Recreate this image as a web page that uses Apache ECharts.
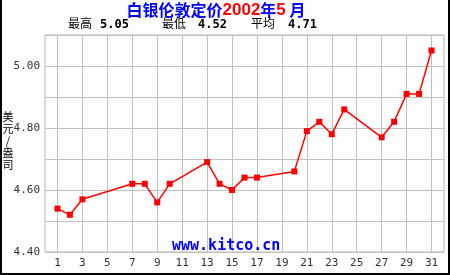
<!DOCTYPE html>
<html>
<head>
<meta charset="utf-8">
<script src="https://cdn.jsdelivr.net/npm/echarts@6/dist/echarts.min.js"></script>
<style>
html,body{margin:0;padding:0;background:#fcfdfc;}
#wrap{position:relative;width:450px;height:275px;box-sizing:border-box;border-left:2px solid #000;border-right:2px solid #000;border-bottom:2px solid #000;background:#fcfdfc;}
#chart{position:absolute;left:-2px;top:0;width:450px;height:275px;}
</style>
</head>
<body>
<div id="wrap"><div id="chart"></div></div>
<script>
// Data
var days = [1, 2, 3, 7, 8, 9, 10, 13, 14, 15, 16, 17, 20, 21, 22, 23, 24, 27, 28, 29, 30, 31];
var prices = [4.54, 4.52, 4.57, 4.62, 4.62, 4.56, 4.62, 4.69, 4.62, 4.60, 4.64, 4.64, 4.66, 4.79, 4.82, 4.78, 4.86, 4.77, 4.82, 4.91, 4.91, 5.05];
var dayCategories = [];
for (var d = 0; d <= 32; d++) dayCategories.push(String(d));
var statLabels = ['最高', '最低', '平均'];
var statValues = ['5.05', '4.52', '4.71'];
var titleParts = ['白银伦敦定价', '2002', '年', '5', ' 月'];
var yAxisName = '美元/盎司';
var watermark = 'www.kitco.cn';

var chart = echarts.init(document.getElementById('chart'), null, {renderer: 'canvas'});
var mono = 'DejaVu Sans Mono';
var cjk = 'Noto Sans CJK SC';

var option = {
  backgroundColor: 'transparent',
  animation: false,
  title: {
    text: '{b|' + titleParts[0] + '}{r|' + titleParts[1] + '}{b|' + titleParts[2] + '}{r|' + titleParts[3] + '}{b|' + titleParts[4] + '}',
    left: 216, top: 0, padding: 0, textAlign: 'center',
    textStyle: {
      rich: {
        b: {color: '#0000ff', fontSize: 16, fontWeight: 'bold', fontFamily: cjk, lineHeight: 20},
        r: {color: '#ff0000', fontSize: 17, fontFamily: 'Liberation Sans', lineHeight: 20}
      }
    }
  },
  grid: {left: 45, right: 6, top: 35, bottom: 23, show: true, borderColor: '#b8b8b8', borderWidth: 1, backgroundColor: 'transparent'},
  xAxis: {
    type: 'category',
    data: dayCategories,
    boundaryGap: false,
    axisLine: {show: false},
    axisTick: {show: false},
    axisLabel: {
      interval: function (i) { return i % 2 === 1; },
      color: '#333', fontFamily: mono, fontSize: 11, margin: 6
    },
    splitLine: {
      show: true,
      interval: function (i) { return i % 2 === 1; },
      lineStyle: {color: '#c0c0c0', width: 1}
    }
  },
  yAxis: {
    type: 'value',
    min: 4.4, max: 5.1, interval: 0.1,
    axisLine: {show: false},
    axisTick: {show: false},
    axisLabel: {
      color: '#333', fontFamily: mono, fontSize: 11, margin: 5,
      formatter: function (v) {
        var k = Math.round(v * 10);
        return k % 2 === 0 && k < 51 ? v.toFixed(2) : '';
      }
    },
    splitLine: {lineStyle: {color: '#c0c0c0', width: 1}}
  },
  series: [{
    type: 'line',
    data: days.map(function (d, i) { return [d, prices[i]]; }),
    symbol: 'rect',
    symbolSize: 6,
    itemStyle: {color: '#ff0000'},
    lineStyle: {color: '#ff0000', width: 1.5},
    z: 5
  }],
  graphic: [
    {type: 'text', left: 68, top: 17, style: {text: statLabels[0], font: '12px "' + cjk + '"', fill: '#000'}},
    {type: 'text', left: 100, top: 19, style: {text: statValues[0], font: 'bold 12px "' + mono + '"', fill: '#000'}},
    {type: 'text', left: 162, top: 17, style: {text: statLabels[1], font: '12px "' + cjk + '"', fill: '#000'}},
    {type: 'text', left: 198, top: 19, style: {text: statValues[1], font: 'bold 12px "' + mono + '"', fill: '#000'}},
    {type: 'text', left: 251, top: 17, style: {text: statLabels[2], font: '12px "' + cjk + '"', fill: '#000'}},
    {type: 'text', left: 288, top: 19, style: {text: statValues[2], font: 'bold 12px "' + mono + '"', fill: '#000'}},
    {type: 'text', x: 8, y: 111, style: {text: yAxisName.split('').join('\n'), font: '11px "' + cjk + '"', lineHeight: 12, fill: '#000', align: 'center', verticalAlign: 'top'}},
    {type: 'text', left: 172, top: 239, z: 10, style: {text: watermark, font: 'bold 15px "' + mono + '"', fill: '#0000ff'}}
  ]
};
chart.setOption(option);
</script>
</body>
</html>
